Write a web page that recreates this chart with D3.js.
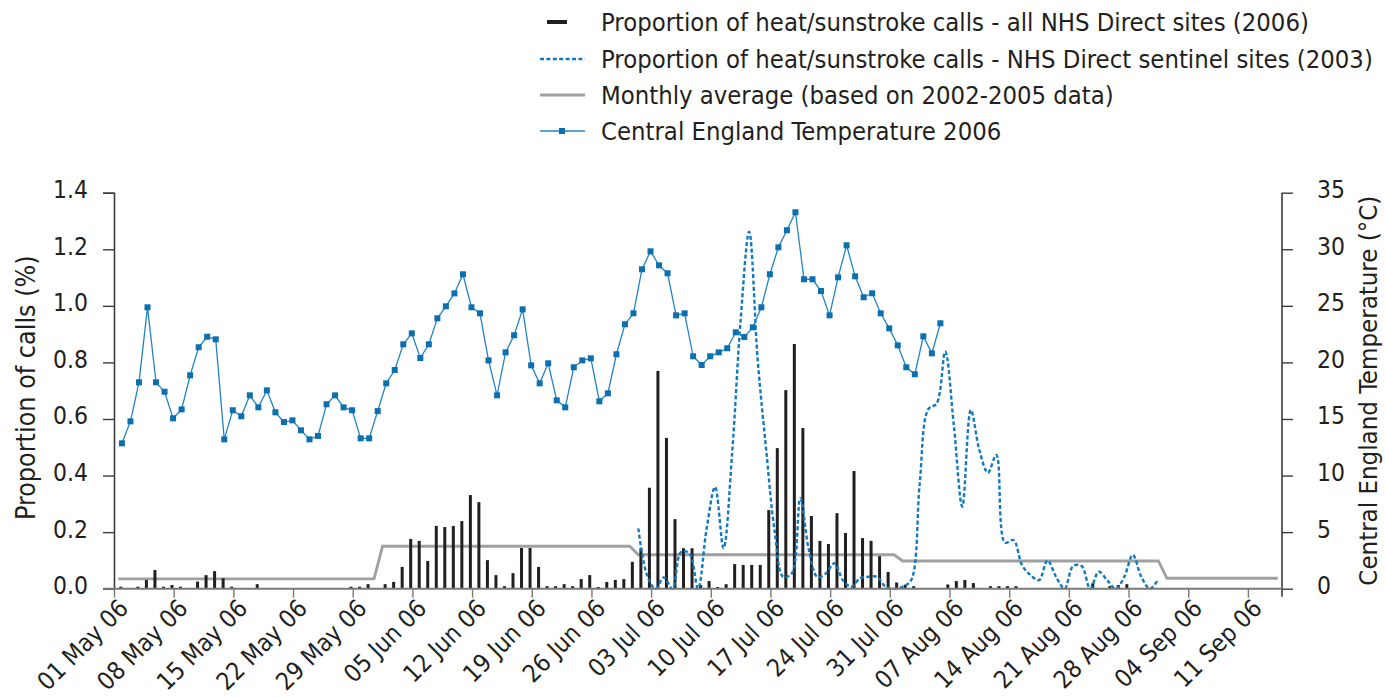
<!DOCTYPE html>
<html><head><meta charset="utf-8">
<script src="https://cdn.jsdelivr.net/npm/d3@7"></script>
<style>body{margin:0;background:#fff}</style>
</head><body>
<svg id="chart" width="1385" height="697"></svg>
<script>
// ---------------- DATA ----------------
const startDate = "2006-05-01";          // day index 0
const axisEndDate = "2006-09-15";
const callsAllSites2006 = [
 0.007,0,0.007,0.031,0.066,0.007,0.013,0.007,0,0.025,
 0.048,0.062,0.037,0.007,0,0,0.016,0,0,0,
 0,0,0,0,0,0,0,0.007,0.007,0.016,
 0,0.016,0.024,0.077,0.176,0.169,0.098,0.222,0.218,0.222,
 0.239,0.331,0.306,0.101,0.048,0.009,0.055,0.144,0.144,0.077,
 0.009,0.009,0.016,0.009,0.034,0.048,0.006,0.024,0.031,0.034,
 0.095,0.143,0.357,0.770,0.533,0.246,0.143,0.143,0.013,0.027,
 0.006,0.016,0.087,0.084,0.084,0.084,0.278,0.497,0.702,0.865,
 0.568,0.257,0.169,0.158,0.267,0.197,0.416,0.179,0.169,0.115,
 0.059,0.022,0.014,0.009,0,0,0,0.015,0.027,0.031,
 0.02,0,0.009,0.009,0.009,0.009,0,0,0,0,
 0,0,0,0,0.019,0,0.009,0.013,0.016
];
const tempCET2006 = [
 12.85,14.79,18.24,24.87,18.24,17.41,15.06,15.85,18.86,21.34,
 22.27,22.04,13.2,15.77,15.24,17.09,16.03,17.53,15.59,14.73,
 14.88,14.0,13.2,13.5,16.3,17.09,16.03,15.77,13.29,13.29,
 15.7,18.15,19.33,21.6,22.57,20.39,21.6,23.9,24.96,26.1,
 27.79,24.87,24.34,20.18,17.09,20.89,22.4,24.69,19.74,18.15,
 19.92,16.65,16.03,19.57,20.18,20.36,16.56,17.27,20.72,23.37,
 24.34,28.23,29.82,28.58,27.88,24.16,24.34,20.54,19.77,20.54,
 20.89,21.25,22.66,22.25,23.1,24.87,27.79,30.17,31.68,33.27,
 27.35,27.35,26.31,24.16,27.52,30.35,27.61,25.76,26.11,24.34,
 23.01,21.51,19.57,18.95,22.31,20.8,23.46
];
const sentinelStartIndex = 61;           // 01 Jul
const callsSentinel2003 = [
 0.213,0.05,0.0,0.04,0.0,0.13,0.125,0.0,0.21,0.36,
 0.143,0.478,0.95,1.262,0.81,0.49,0.2,0.042,0.054,0.32,
 0.137,0.042,0.054,0.09,0.03,0.007,0.037,0.042,0.042,0.007,
 0.0,0.007,0.03,0.37,0.634,0.655,0.838,0.58,0.29,0.632,
 0.49,0.41,0.473,0.163,0.172,0.084,0.048,0.03,0.1,0.042,
 0.0,0.08,0.08,0.0,0.06,0.03,0.0,0.042,0.119,0.042,
 0.0,0.033
];
const avgMonths = [4,5,6,7,8];           // May..Sep (0-based month numbers)
const monthlyAverage = [0.035,0.15,0.12,0.098,0.037];
const monthlyAverageDays = 137;          // 01 May .. 14 Sep
const leftTicks = [0,0.2,0.4,0.6,0.8,1.0,1.2,1.4];
const rightTicks = [0,5,10,15,20,25,30,35];
const legendLabels = [
 "Proportion of heat/sunstroke calls - all NHS Direct sites (2006)",
 "Proportion of heat/sunstroke calls - NHS Direct sentinel sites (2003)",
 "Monthly average (based on 2002-2005 data)",
 "Central England Temperature 2006"
];
const yLeftTitle = "Proportion of calls (%)";
const yRightTitle = "Central England Temperature (°C)";

// ---------------- CHART ----------------
const svg = d3.select("#chart");
const FONT = "'Liberation Sans Narrow', 'DejaVu Sans Condensed', Roboto, sans-serif";
const TXT = "#231f20";
const BLUE = "#0b6fb0", BLUE_LINE = "#2683c3", DOT = "#1279c0", GREY = "#a0a0a0";

const m = {left:114, right:1282, top:192.7, bottom:588.7};
const t0 = new Date(startDate + "T00:00:00Z");
const x = d3.scaleUtc().domain([t0, new Date(axisEndDate + "T00:00:00Z")]).range([m.left, m.right]);
const yL = d3.scaleLinear().domain([0,1.4]).range([m.bottom, m.top]);
const yR = d3.scaleLinear().domain([0,35]).range([m.bottom, m.top]);
const dayAt = (j) => new Date(t0.getTime() + j*864e5);
const xAt = (j, frac) => x(dayAt(j + frac));

// font sizes fitted to the reference text extents
const fit = (str, target) => {
  const p = svg.append("text").style("font-family",FONT).style("font-size","20px").text(str);
  const w = p.node().getComputedTextLength(); p.remove();
  return 20 * target / w;
};
const fsLegend = Math.min(fit(legendLabels[0],757), fit(legendLabels[1],772));
const fsLeftTitle = fit(yLeftTitle, 265);
const fsRightTitle = fit(yRightTitle, 390);
const fsTick = fit("0.0", 35);
const fsX = fit("01 May 06", 116);

// Monthly average (grey)
const avgData = d3.range(monthlyAverageDays).map(j => {
  const mi = avgMonths.indexOf(dayAt(j).getUTCMonth());
  return {j, v: monthlyAverage[mi]};
});
svg.append("path").datum(avgData)
  .attr("fill","none").attr("stroke",GREY).attr("stroke-width",2.8)
  .attr("d", d3.line().x(d=>xAt(d.j,0.5)).y(d=>yL(d.v)));

// Bars
svg.append("g").selectAll("rect").data(callsAllSites2006.map((v,j)=>({j,v})).filter(d=>d.v>0))
  .join("rect")
  .attr("x", d=>xAt(d.j,0.8)-1.5).attr("width",3)
  .attr("y", d=>yL(d.v)).attr("height", d=>yL(0)-yL(d.v))
  .attr("fill","#231f20");

// Sentinel 2003 dotted
svg.append("path").datum(callsSentinel2003.map((v,k)=>({j:k+sentinelStartIndex, v})))
  .attr("fill","none").attr("stroke",DOT).attr("stroke-width",2.4)
  .attr("stroke-dasharray","4,2.4")
  .attr("d", d3.line().curve(d3.curveCatmullRom.alpha(0.5)).x(d=>xAt(d.j,0.5)).y(d=>yL(d.v)));

// Temperature
const tData = tempCET2006.map((v,j)=>({j,v}));
svg.append("path").datum(tData)
  .attr("fill","none").attr("stroke",BLUE_LINE).attr("stroke-width",1.3)
  .attr("d", d3.line().x(d=>xAt(d.j,0.93)).y(d=>yR(d.v)));
svg.append("g").selectAll("rect").data(tData).join("rect")
  .attr("x", d=>xAt(d.j,0.93)-3).attr("y", d=>yR(d.v)-3)
  .attr("width",6).attr("height",6).attr("fill",BLUE);

// Axes
const styleAxis = (g, col, fs) => {
  g.selectAll("text").style("font-family",FONT).style("font-size",fs+"px").attr("fill",TXT);
  g.selectAll("line").attr("stroke",col).attr("stroke-width",1.4);
  g.select(".domain").attr("stroke",col).attr("stroke-width",1.6);
};
const gL = svg.append("g").attr("transform",`translate(${m.left},0)`)
  .call(d3.axisLeft(yL).tickValues(leftTicks).tickFormat(d3.format(".1f")).tickSizeOuter(0).tickSize(11).tickPadding(15));
styleAxis(gL, "#3c3c3c", fsTick);
gL.selectAll(".tick text").attr("dy","0.2em");
const gR = svg.append("g").attr("transform",`translate(${m.right},0)`)
  .call(d3.axisRight(yR).tickValues(rightTicks).tickSizeOuter(0).tickSize(11).tickPadding(24));
styleAxis(gR, "#3c3c3c", fsTick);
gR.selectAll(".tick text").attr("dy","0.2em");
gR.select(".domain").attr("d", `M0,${m.top}V${m.bottom+8}`);

const weekTicks = d3.range(0,134,7).map(dayAt);
const gX = svg.append("g").attr("transform",`translate(0,${m.bottom})`)
  .call(d3.axisBottom(x).tickValues(weekTicks).tickFormat(d3.utcFormat("%d %b %y")).tickSizeOuter(0).tickSize(9));
styleAxis(gX, "#7a7a7a", fsX);
gX.select(".domain").attr("d", `M${m.left-11},0H${m.right}`).attr("stroke-width",2);
gX.selectAll(".tick text")
  .attr("text-anchor","end").attr("dy","0.35em").attr("y",0)
  .attr("transform","translate(9,15) rotate(-45)");

// Axis titles
svg.append("text").attr("transform",`translate(26,${(m.top+m.bottom)/2-3}) rotate(-90)`)
  .attr("text-anchor","middle").attr("dy","0.35em").style("font-family",FONT).style("font-size",fsLeftTitle+"px").attr("fill",TXT)
  .text(yLeftTitle);
svg.append("text").attr("transform",`translate(1368,${(m.top+m.bottom)/2}) rotate(-90)`)
  .attr("text-anchor","middle").attr("dy","0.35em").style("font-family",FONT).style("font-size",fsRightTitle+"px").attr("fill",TXT)
  .text(yRightTitle);

// Legend
const legY = [22, 59, 95, 131];
const lg = svg.append("g");
legendLabels.forEach((lab,i) => {
  lg.append("text").attr("x",601).attr("y",legY[i]).attr("dy","0.35em")
    .style("font-family",FONT).style("font-size",fsLegend+"px").attr("fill",TXT).text(lab);
});
lg.append("line").attr("x1",547).attr("x2",567).attr("y1",legY[0]).attr("y2",legY[0]).attr("stroke","#231f20").attr("stroke-width",4);
lg.append("line").attr("x1",540).attr("x2",585).attr("y1",legY[1]).attr("y2",legY[1]).attr("stroke",DOT).attr("stroke-width",2.4).attr("stroke-dasharray","4,2.4");
lg.append("line").attr("x1",540).attr("x2",585).attr("y1",legY[2]).attr("y2",legY[2]).attr("stroke",GREY).attr("stroke-width",2.8);
lg.append("line").attr("x1",540).attr("x2",585).attr("y1",legY[3]).attr("y2",legY[3]).attr("stroke",BLUE_LINE).attr("stroke-width",1.3);
lg.append("rect").attr("x",559).attr("y",legY[3]-3).attr("width",6).attr("height",6).attr("fill",BLUE);
</script>
</body></html>
